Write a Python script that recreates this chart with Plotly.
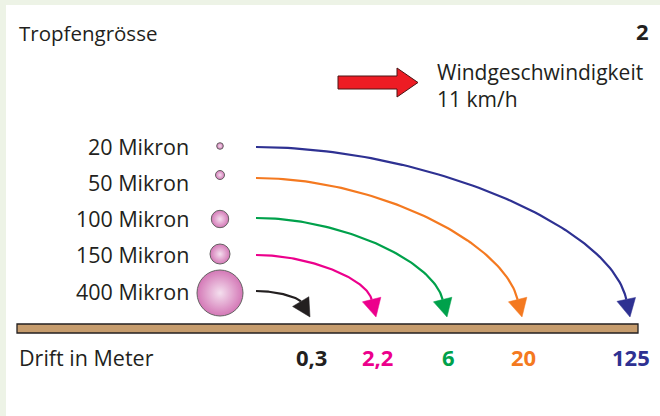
import numpy as np
import plotly.graph_objects as go

# ---------------- data ----------------
droplet_microns = [20, 50, 100, 150, 400]
drift_m = [125, 20, 6, 2.2, 0.3]
series_colors = ["#2e3192", "#f47920", "#00a14b", "#ec008c", "#231f20"]
wind_speed_kmh = 11
panel_number = "2"
title_text = "Tropfengrösse"
axis_text = "Drift in Meter"
wind_text = "Windgeschwindigkeit"

# ---------------- layout constants (pixels) ----------------
W, H = 660, 416
FONT = "Open Sans"
TXT = "#231f20"
FS = 21.5
row_label_y = [146, 182, 218, 254, 291]
circle_y = [146, 175, 219, 254, 293]
circle_r = [3.3, 4.5, 8.7, 10, 23]
curve_y0 = [147, 178, 218, 255, 291]
end_x = [630, 522, 447, 376, 310]
end_angle_deg = [12, 14, 14, 14, 31]
ground_top, ground_bot = 324, 333
tip_y = 317


def fmt(v):
    s = f"{v:g}"
    return s.replace(".", ",")


fig = go.Figure()

# background panel
shapes = [
    dict(type="rect", xref="x", yref="y", x0=6, y0=5, x1=W + 5, y1=H + 5,
         fillcolor="white", line=dict(width=0), layer="below"),
    dict(type="rect", xref="x", yref="y", x0=17, y0=ground_top, x1=638, y1=ground_bot,
         fillcolor="#c69c6d", line=dict(color="#231f20", width=1.3)),
]

# wind arrow polygon
wx = [338, 397, 397, 418, 397, 397, 338, 338]
wy = [76, 76, 68, 82.5, 97, 89, 89, 76]
fig.add_trace(go.Scatter(x=wx, y=wy, mode="lines", fill="toself",
                         fillcolor="#ed1c24", line=dict(color="#4a1414", width=1),
                         hoverinfo="skip", showlegend=False))

# drift curves with arrowheads
x0 = 256
head_len, head_half = 18, 9.5
for i, v in enumerate(drift_m):
    col = series_colors[i]
    a = np.radians(end_angle_deg[i])
    d = np.array([np.sin(a), np.cos(a)])
    tip = np.array([end_x[i], tip_y])
    base = tip - head_len * d
    P0 = np.array([x0, curve_y0[i]])
    dx = base[0] - P0[0]
    dy = base[1] - P0[1]
    P1 = np.array([x0 + 0.45 * dx, P0[1]])
    P2 = base - 0.5 * dy * d
    t = np.linspace(0, 1, 80)[:, None]
    B = ((1 - t) ** 3) * P0 + 3 * ((1 - t) ** 2) * t * P1 + 3 * (1 - t) * t ** 2 * P2 + t ** 3 * base
    fig.add_trace(go.Scatter(x=B[:, 0], y=B[:, 1], mode="lines",
                             line=dict(color=col, width=2.2), hoverinfo="skip", showlegend=False))
    n = np.array([-d[1], d[0]])
    tri = np.array([base + head_half * n, tip, base - head_half * n, base + head_half * n])
    fig.add_trace(go.Scatter(x=tri[:, 0], y=tri[:, 1], mode="lines", fill="toself",
                             fillcolor=col, line=dict(color=col, width=0.5),
                             hoverinfo="skip", showlegend=False))

# droplets
fig.add_trace(go.Scatter(
    x=[220] * len(droplet_microns), y=circle_y, mode="markers",
    marker=dict(size=[2 * r for r in circle_r], color="#c23f98",
                gradient=dict(type="radial", color="#f0d2e8"),
                line=dict(color="#231f20", width=1)),
    hoverinfo="skip", showlegend=False))

ann = []
for i, m in enumerate(droplet_microns):
    ann.append(dict(x=191, y=row_label_y[i], text=f"{m} Mikron", xanchor="right", yanchor="middle",
                    font=dict(size=FS, color=TXT, family=FONT)))
    ann.append(dict(x=end_x[i] + 1, y=357, text=f"<b>{fmt(drift_m[i])}</b>", xanchor="center",
                    yanchor="middle", font=dict(size=22, color=series_colors[i], family=FONT)))

ann += [
    dict(x=17, y=33, text=title_text, xanchor="left", yanchor="middle",
         font=dict(size=20.5, color=TXT, family=FONT)),
    dict(x=651, y=31, text=f"<b>{panel_number}</b>", xanchor="right", yanchor="middle",
         font=dict(size=22, color=TXT, family=FONT)),
    dict(x=435, y=85, text=f"{wind_text}<br>{wind_speed_kmh} km/h", xanchor="left",
         yanchor="middle", align="left",
         font=dict(size=21, color=TXT, family=FONT)),
    dict(x=17, y=357, text=axis_text, xanchor="left", yanchor="middle",
         font=dict(size=FS, color=TXT, family=FONT)),
]
for a_ in ann:
    a_.update(xref="x", yref="y", showarrow=False)

fig.update_layout(
    width=W, height=H, margin=dict(l=0, r=0, t=0, b=0),
    paper_bgcolor="#edf3e6", plot_bgcolor="rgba(0,0,0,0)",
    xaxis=dict(range=[0, W], visible=False, fixedrange=True),
    yaxis=dict(range=[H, 0], visible=False, fixedrange=True),
    shapes=shapes, annotations=ann,
)
fig.write_html("out.html", config={"displayModeBar": False},
               post_script="document.body.style.margin='0';document.body.style.overflow='hidden';")
